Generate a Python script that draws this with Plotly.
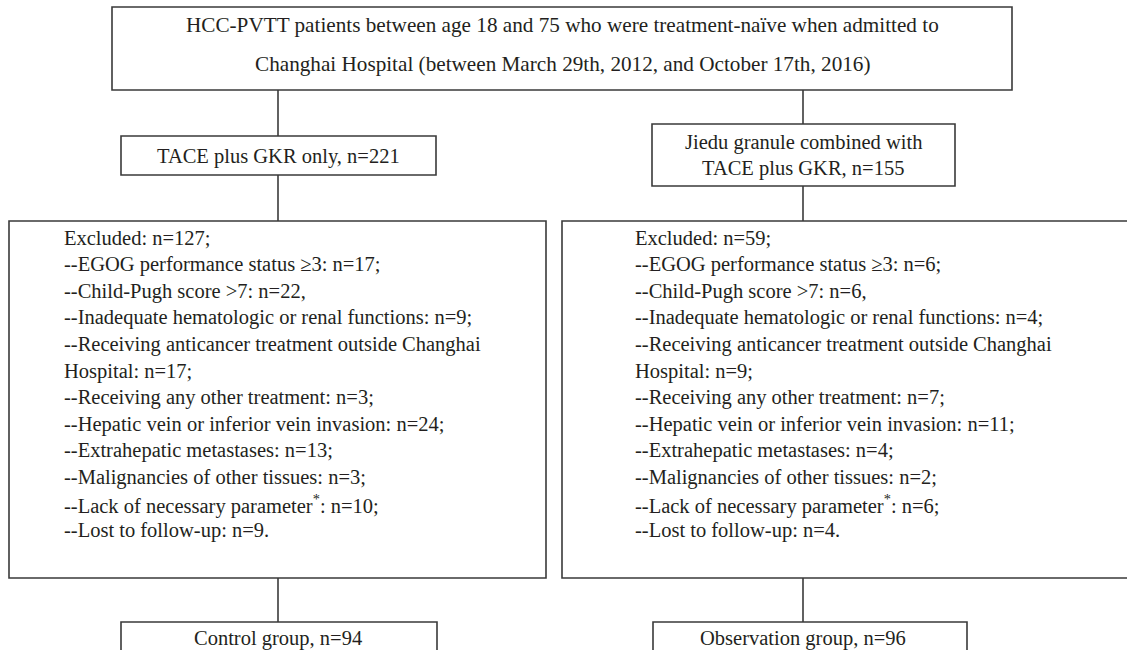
import plotly.graph_objects as go

# ---- content (data) ----
top_lines = [
    "HCC-PVTT patients between age 18 and 75 who were treatment-naïve when admitted to",
    "Changhai Hospital (between March 29th, 2012, and October 17th, 2016)",
]
arm_labels = [
    ["TACE plus GKR only, n=221"],
    ["Jiedu granule combined with", "TACE plus GKR, n=155"],
]
excluded_left = [
    "Excluded: n=127;",
    "--EGOG performance status ≥3: n=17;",
    "--Child-Pugh score >7: n=22,",
    "--Inadequate hematologic or renal functions: n=9;",
    "--Receiving anticancer treatment outside Changhai",
    "Hospital: n=17;",
    "--Receiving any other treatment: n=3;",
    "--Hepatic vein or inferior vein invasion: n=24;",
    "--Extrahepatic metastases: n=13;",
    "--Malignancies of other tissues: n=3;",
    "--Lack of necessary parameter<sup>*</sup>: n=10;",
    "--Lost to follow-up: n=9.",
]
excluded_right = [
    "Excluded: n=59;",
    "--EGOG performance status ≥3: n=6;",
    "--Child-Pugh score >7: n=6,",
    "--Inadequate hematologic or renal functions: n=4;",
    "--Receiving anticancer treatment outside Changhai",
    "Hospital: n=9;",
    "--Receiving any other treatment: n=7;",
    "--Hepatic vein or inferior vein invasion: n=11;",
    "--Extrahepatic metastases: n=4;",
    "--Malignancies of other tissues: n=2;",
    "--Lack of necessary parameter<sup>*</sup>: n=6;",
    "--Lost to follow-up: n=4.",
]
group_labels = ["Control group, n=94", "Observation group, n=96"]

# ---- layout geometry (pixels, y downward) ----
W, H = 1127, 650
FONT = "Liberation Serif, Times New Roman, serif"
FS = 20.5
FS_TOP = 21.2
TXT = "#231f20"
LINE = "#3a3a3a"
LW = 1.6

top_box = (112, 7, 1012, 90)
top_text_y = [25, 64]
arm_boxes = [(121, 136, 436, 175), (652, 124, 955, 186)]
arm_text_y = [[156], [142, 168]]
col_x = [278, 803]
excl_boxes = [(9, 221, 546, 578), (562, 221, 1140, 578)]
excl_text_x = [62, 633]
excl_y0, excl_dy = 238, 26.6
group_boxes = [(121, 622, 437, 670), (653, 622, 967, 670)]
group_text_y = 638

shapes = []
annotations = []


def rect(b):
    shapes.append(dict(type="rect", xref="x", yref="y", x0=b[0], y0=b[1], x1=b[2], y1=b[3],
                       line=dict(color=LINE, width=LW), fillcolor="rgba(0,0,0,0)"))


def vline(x, y0, y1):
    shapes.append(dict(type="line", xref="x", yref="y", x0=x, x1=x, y0=y0, y1=y1,
                       line=dict(color=LINE, width=LW)))


def text(x, y, s, anchor="center", size=FS):
    annotations.append(dict(x=x, y=y, xref="x", yref="y", text=s, showarrow=False,
                            xanchor=anchor, yanchor="middle",
                            font=dict(family=FONT, size=size, color=TXT)))


rect(top_box)
for s, y in zip(top_lines, top_text_y):
    text((top_box[0] + top_box[2]) / 2, y, s, size=FS_TOP)

for i in range(2):
    cx = col_x[i]
    vline(cx, top_box[3], arm_boxes[i][1])
    rect(arm_boxes[i])
    for s, y in zip(arm_labels[i], arm_text_y[i]):
        text(cx, y, s)
    vline(cx, arm_boxes[i][3], excl_boxes[i][1])
    rect(excl_boxes[i])
    lines = excluded_left if i == 0 else excluded_right
    for k, s in enumerate(lines):
        text(excl_text_x[i], excl_y0 + k * excl_dy, s, anchor="left")
    vline(cx, excl_boxes[i][3], group_boxes[i][1])
    rect(group_boxes[i])
    text(cx, group_text_y, group_labels[i])

fig = go.Figure()
fig.add_trace(go.Scatter(x=[0, W], y=[0, H], mode="markers", marker=dict(opacity=0),
                         hoverinfo="skip", showlegend=False))
fig.update_layout(
    width=W, height=H, margin=dict(l=0, r=0, t=0, b=0),
    paper_bgcolor="white", plot_bgcolor="white",
    xaxis=dict(range=[0, W], visible=False, fixedrange=True),
    yaxis=dict(range=[H, 0], visible=False, fixedrange=True),
    shapes=shapes, annotations=annotations, showlegend=False,
)
fig.write_html("out.html", config={"displayModeBar": False},
               post_script="document.body.style.margin='0';document.body.style.overflow='hidden';")
